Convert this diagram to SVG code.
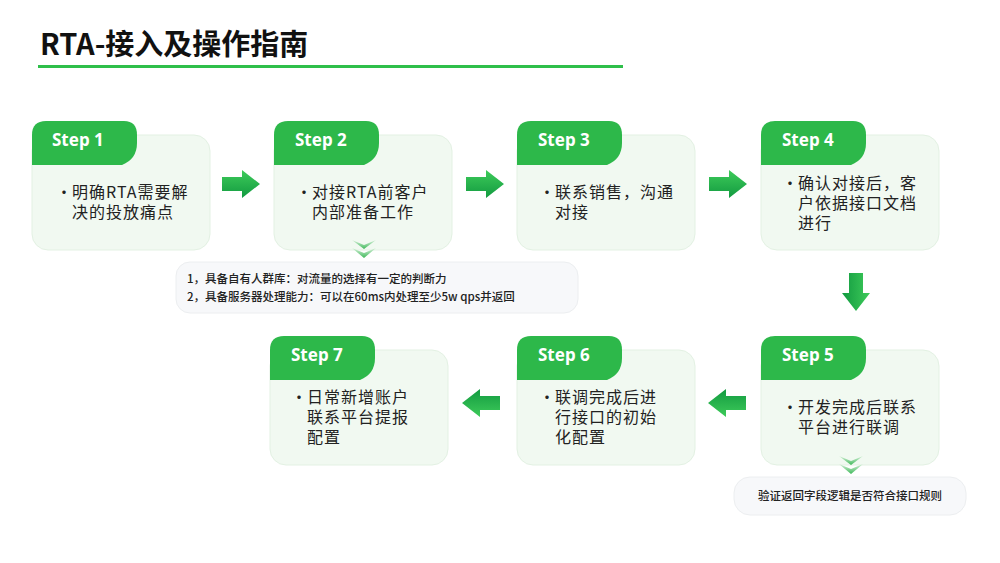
<svg xmlns="http://www.w3.org/2000/svg" width="1000" height="563" viewBox="0 0 1000 563">
<defs>
<linearGradient id="ag" x1="0" y1="0" x2="0" y2="1"><stop offset="0" stop-color="#3ecb5a"/><stop offset="1" stop-color="#129a40"/></linearGradient>
<linearGradient id="cg" x1="0" y1="0" x2="0" y2="1"><stop offset="0" stop-color="#d6f0d9"/><stop offset="1" stop-color="#3fb95a"/></linearGradient>
<path id="tab" d="M0,14 Q0,0 14,0 H92 Q105,0 105,14 V22 Q105,38 90,44 H0 Z" fill="#2db84a"/>
<path id="ar" d="M0,-7 H20 V-14 L38,0 L20,14 V7 H0 Z" fill="url(#ag)"/>
<g id="chev"><path d="M-12,0 L0,9 L12,0 L0,5 Z" fill="url(#cg)"/><path d="M-12,8 L0,18 L12,8 L0,13 Z" fill="url(#cg)"/></g>
</defs>
<style>
.card{fill:#f1f9f1;stroke:#e3f1e3;stroke-width:1}
.st{font-family:"Noto Sans","Liberation Sans",sans-serif;font-weight:bold;font-size:17px;fill:#fff}
.bd{font-family:"Noto Sans CJK SC",sans-serif;font-size:16px;fill:#222;letter-spacing:1px}
.nt{font-family:"Noto Sans CJK SC",sans-serif;font-size:11.5px;font-weight:500;fill:#222}
.note{fill:#f7f8fa;stroke:#eceef0}
</style>
<rect width="1000" height="563" fill="#fff"/>
<text x="40" y="55" font-family="Noto Sans CJK SC,sans-serif" font-weight="bold" font-size="29" fill="#111">RTA-接入及操作指南</text>
<rect x="38" y="65" width="585" height="3" fill="#2fbf4a"/>

<g id="step1"><rect class="card" x="32" y="135" width="178" height="115" rx="16"/><use href="#tab" x="32" y="121"/><text class="st" x="52" y="146">Step 1</text>
<text class="bd" x="56" y="198">•</text><text class="bd" x="72" y="198">明确RTA需要解</text><text class="bd" x="72" y="218">决的投放痛点</text></g>
<g id="step2"><rect class="card" x="274" y="135" width="178" height="115" rx="16"/><use href="#tab" x="274" y="121"/><text class="st" x="295" y="146">Step 2</text>
<text class="bd" x="296" y="198">•</text><text class="bd" x="312" y="198">对接RTA前客户</text><text class="bd" x="312" y="218">内部准备工作</text></g>
<g id="step3"><rect class="card" x="517" y="135" width="178" height="115" rx="16"/><use href="#tab" x="517" y="121"/><text class="st" x="538" y="146">Step 3</text>
<text class="bd" x="539" y="198">•</text><text class="bd" x="555" y="198">联系销售，沟通</text><text class="bd" x="555" y="218">对接</text></g>
<g id="step4"><rect class="card" x="761" y="135" width="178" height="115" rx="16"/><use href="#tab" x="761" y="121"/><text class="st" x="782" y="146">Step 4</text>
<text class="bd" x="782" y="189">•</text><text class="bd" x="798" y="189">确认对接后，客</text><text class="bd" x="798" y="209">户依据接口文档</text><text class="bd" x="798" y="229">进行</text></g>
<g id="step5"><rect class="card" x="761" y="350" width="178" height="115" rx="16"/><use href="#tab" x="761" y="336"/><text class="st" x="782" y="361">Step 5</text>
<text class="bd" x="782" y="413">•</text><text class="bd" x="798" y="413">开发完成后联系</text><text class="bd" x="798" y="433">平台进行联调</text></g>
<g id="step6"><rect class="card" x="517" y="350" width="178" height="115" rx="16"/><use href="#tab" x="517" y="336"/><text class="st" x="538" y="361">Step 6</text>
<text class="bd" x="539" y="403">•</text><text class="bd" x="555" y="403">联调完成后进</text><text class="bd" x="555" y="423">行接口的初始</text><text class="bd" x="555" y="443">化配置</text></g>
<g id="step7"><rect class="card" x="270" y="350" width="178" height="115" rx="16"/><use href="#tab" x="270" y="336"/><text class="st" x="291" y="361">Step 7</text>
<text class="bd" x="291" y="403">•</text><text class="bd" x="307" y="403">日常新增账户</text><text class="bd" x="307" y="423">联系平台提报</text><text class="bd" x="307" y="443">配置</text></g>

<g id="note1"><rect class="note" x="176" y="262" width="402" height="51" rx="14"/>
<text class="nt" x="187" y="283">1，具备自有人群库：对流量的选择有一定的判断力</text>
<text class="nt" x="187" y="301">2，具备服务器处理能力：可以在60ms内处理至少5w qps并返回</text></g>
<g id="note2"><rect class="note" x="734" y="477" width="232" height="38" rx="16"/>
<text class="nt" x="850" y="500" text-anchor="middle">验证返回字段逻辑是否符合接口规则</text></g>

<g id="connectors">
<use href="#ar" x="222" y="184"/>
<use href="#ar" x="466" y="184"/>
<use href="#ar" x="709" y="184"/>
<use href="#ar" transform="translate(856,273) rotate(90)"/>
<use href="#ar" transform="translate(746,403) rotate(180)"/>
<use href="#ar" transform="translate(500,403) rotate(180)"/>
<use href="#chev" x="364" y="240"/>
<use href="#chev" x="851" y="456"/>
</g>
</svg>
